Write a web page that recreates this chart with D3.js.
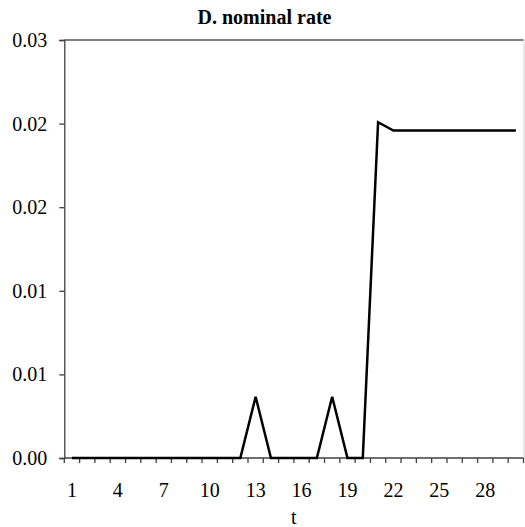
<!DOCTYPE html>
<html><head><meta charset="utf-8">
<script src="https://cdn.jsdelivr.net/npm/d3@7"></script>
<style>body{margin:0;background:#fff;} svg{display:block;}</style>
</head><body>
<svg id="c" width="525" height="527"></svg>
<script>
const periods = d3.range(1, 31);
const nominalRate = [0,0,0,0,0,0,0,0,0,0,0,0,0.0044,0,0,0,0,0.0044,0,0,0.0241,0.0235,0.0235,0.0235,0.0235,0.0235,0.0235,0.0235,0.0235,0.0235];
const yTicks = [0, 0.006, 0.012, 0.018, 0.024, 0.03];
const xLabels = periods.filter(d => (d - 1) % 3 === 0);
const title = "D. nominal rate";
const xTitle = "t";

const svg = d3.select("#c");
const L = 64.3, R = 523.5, T = 40, B = 458;
const x = d3.scaleBand().domain(periods).range([L, R]);
const y = d3.scaleLinear().domain([0, 0.03]).range([B, T]);
const FONT = '"Liberation Serif"';

// frame top and right
svg.append("line").attr("x1", L).attr("x2", R).attr("y1", T).attr("y2", T)
  .attr("stroke", "#808080").attr("stroke-width", 2);
svg.append("line").attr("x1", R + 0.5).attr("x2", R + 0.5).attr("y1", T).attr("y2", B)
  .attr("stroke", "#d0d0d0").attr("stroke-width", 1);

// y axis
const yAxis = svg.append("g").attr("transform", `translate(${L},0)`)
  .call(d3.axisLeft(y).tickValues(yTicks).tickSize(5).tickPadding(12).tickFormat(d3.format(".2f")));
yAxis.selectAll("path,line").attr("stroke", "#404040").attr("stroke-width", 1.3);
yAxis.selectAll("text").style("font-family", FONT).attr("font-size", 20).attr("fill", "#000");

// x axis with ticks at category boundaries
const xAxis = svg.append("g").attr("transform", `translate(0,${B})`)
  .call(d3.axisBottom(x).tickValues(xLabels).tickSize(0).tickPadding(25));
xAxis.select("path").remove();
xAxis.selectAll("text").style("font-family", FONT).attr("font-size", 20).attr("fill", "#000")
  .attr("dy", null).attr("y", 497 - B);
svg.append("line").attr("x1", L).attr("x2", R).attr("y1", B).attr("y2", B)
  .attr("stroke", "#404040").attr("stroke-width", 1.3);
svg.append("g").selectAll("line").data(periods.concat([31])).join("line")
  .attr("x1", d => d <= 30 ? x(d) : R).attr("x2", d => d <= 30 ? x(d) : R)
  .attr("y1", B).attr("y2", B + 5)
  .attr("stroke", "#404040").attr("stroke-width", 1.3);

// line
const line = d3.line().x((d, i) => x(periods[i]) + x.bandwidth() / 2).y(d => y(d));
svg.append("path").datum(nominalRate).attr("d", line)
  .attr("fill", "none").attr("stroke", "#000").attr("stroke-width", 2.5).attr("stroke-linejoin", "miter");

// titles
svg.append("text").attr("x", 264.5).attr("y", 24).attr("text-anchor", "middle")
  .style("font-family", FONT).attr("font-size", 20).attr("font-weight", "bold").text(title);
svg.append("text").attr("x", (L + R) / 2).attr("y", 524).attr("text-anchor", "middle")
  .style("font-family", FONT).attr("font-size", 20).text(xTitle);
</script>
</body></html>
